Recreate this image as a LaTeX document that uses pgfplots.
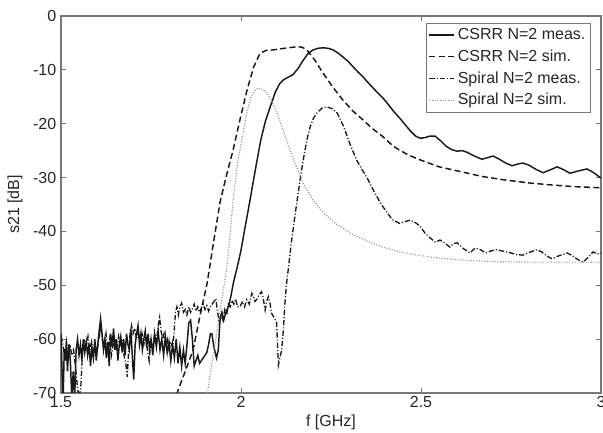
\documentclass[border=0pt]{standalone}
\usepackage{fontspec}
\setmainfont{Liberation Sans}
\usepackage{pgfplots}
\pgfplotsset{compat=1.18}
\usetikzlibrary{calc}
\definecolor{axgray}{RGB}{120,120,120}
\definecolor{dotgray}{RGB}{150,150,150}
\definecolor{curve}{RGB}{25,25,25}
\begin{document}
\begin{tikzpicture}
\begin{axis}[
  scale only axis,
  width=405pt, height=282.75pt,
  xmin=1.5, xmax=3, ymin=-70, ymax=0,
  xtick={1.5,2,2.5,3}, xticklabels={1.5,2,2.5,3},
  ytick={-70,-60,-50,-40,-30,-20,-10,0},
  yticklabels={-70,-60,-50,-40,-30,-20,-10,0},
  tick align=inside, major tick length=4pt,
  axis line style={axgray, line width=0.8pt},
  tick style={axgray, line width=0.6pt},
  every tick label/.append style={font=\fontsize{12}{14}\selectfont, text=black!85},
  xticklabel style={yshift=1pt},
  label style={font=\fontsize{12}{14}\selectfont, text=black!85},
  xlabel={f [GHz]}, ylabel={s21 [dB]},
  xlabel style={at={(axis description cs:0.5,-0.077)}, anchor=center},
  ylabel style={at={(axis description cs:-0.0852,0.5)}, anchor=center},
  legend cell align=left,
  legend style={at={(rel axis cs:1,1)}, anchor=north east, xshift=-7.5pt, yshift=-5.25pt,
    draw=axgray, line width=0.6pt, fill=white, font=\fontsize{12}{14}\selectfont,
    inner sep=1.8pt, row sep=1.9pt, nodes={inner sep=2.1pt, text=black!85}},
  legend image code/.code={\draw[#1] (0cm,0cm) -- (0.66cm,0cm);},
  clip=true,
]
% CSRR N=2 meas.
\addplot[curve, line width=1.1pt, solid] coordinates {
(1.500,-59) (1.503,-66) (1.506,-71) (1.509,-62) (1.512,-64) (1.515,-60.5) (1.518,-66)
(1.522,-61) (1.526,-64) (1.530,-71) (1.534,-66) (1.538,-71) (1.542,-62) (1.546,-60)
(1.550,-63) (1.554,-61) (1.558,-64) (1.562,-60) (1.566,-62.5) (1.570,-60.5) (1.574,-63)
(1.578,-61) (1.582,-65) (1.586,-61.5) (1.590,-63.5) (1.594,-60) (1.598,-64) (1.602,-61)
(1.606,-58.5) (1.610,-56.2) (1.614,-59) (1.618,-62) (1.622,-60) (1.626,-63.5) (1.630,-60.5)
(1.634,-65) (1.638,-59) (1.642,-61.5) (1.646,-58) (1.650,-62) (1.654,-60) (1.658,-64)
(1.662,-61) (1.666,-59.5) (1.670,-62.5) (1.674,-60) (1.678,-63) (1.682,-59) (1.686,-61)
(1.690,-62) (1.694,-58) (1.698,-63) (1.702,-67.5) (1.706,-61) (1.710,-59) (1.714,-57.5)
(1.718,-61) (1.722,-59) (1.726,-62) (1.730,-60) (1.734,-58.5) (1.738,-61.5) (1.742,-59)
(1.746,-62) (1.750,-60) (1.755,-63) (1.760,-59) (1.765,-61.5) (1.770,-58.5) (1.775,-62)
(1.780,-60) (1.785,-63) (1.790,-59.5) (1.795,-62.5) (1.800,-60.5) (1.805,-64) (1.810,-61)
(1.815,-63.5) (1.820,-60) (1.825,-64.5) (1.830,-61.5) (1.835,-65) (1.840,-62) (1.845,-64.5)
(1.850,-61) (1.855,-57) (1.860,-56.5) (1.865,-60) (1.870,-65) (1.875,-64) (1.880,-63)
(1.885,-64.5) (1.890,-64) (1.895,-63.5) (1.900,-63) (1.905,-62.5) (1.910,-61) (1.915,-59)
(1.919,-59) (1.925,-61.5) (1.932,-63.5) (1.937,-62) (1.942,-56) (1.947,-55) (1.952,-56.5)
(1.958,-55) (1.965,-54) (1.972,-52) (1.979,-49.5) (1.990,-46.5) (2.000,-43.5) (2.012,-39)
(2.025,-34.2) (2.040,-28.5) (2.055,-23) (2.068,-19.5) (2.081,-16.9) (2.095,-14.2) (2.107,-12.6)
(2.117,-11.9) (2.130,-11.4) (2.144,-10.9) (2.158,-9.8) (2.172,-8.3) (2.186,-7) (2.200,-6.3)
(2.214,-6) (2.228,-5.9) (2.242,-6) (2.256,-6.3) (2.270,-6.9) (2.283,-7.6) (2.297,-8.4)
(2.311,-9.4) (2.325,-10.4) (2.339,-11.3) (2.352,-12.3) (2.366,-13.3) (2.380,-14.3) (2.394,-15.2)
(2.410,-16.5) (2.425,-17.8) (2.440,-18.9) (2.455,-20.1) (2.470,-21.3) (2.485,-22.3) (2.497,-22.7)
(2.510,-22.6) (2.525,-22.3) (2.539,-22.3) (2.555,-23.2) (2.570,-24.2) (2.585,-24.8) (2.600,-25.1)
(2.614,-25.0) (2.628,-25.3) (2.645,-25.9) (2.669,-26.6) (2.685,-26.3) (2.700,-26.0) (2.718,-26.6)
(2.735,-27.3) (2.753,-27.8) (2.768,-27.5) (2.783,-27.3) (2.800,-27.7) (2.820,-28.5) (2.839,-29.1)
(2.858,-28.6) (2.878,-28.0) (2.895,-28.5) (2.914,-29.2) (2.935,-28.8) (2.961,-28.4) (2.980,-29.1)
(3.000,-30.1)
};
\addlegendentry{CSRR N=2 meas.}
% CSRR N=2 sim.
\addplot[curve, line width=1.1pt, dash pattern=on 4.5pt off 2.5pt] coordinates {
(1.815,-72) (1.825,-69.5) (1.845,-66) (1.867,-62) (1.885,-56) (1.906,-49.6) (1.925,-41.5)
(1.942,-34.5) (1.960,-29.5) (1.978,-24.9) (1.998,-19) (2.017,-13.7) (2.035,-9.5) (2.053,-6.9)
(2.070,-6.4) (2.089,-6.3) (2.120,-6) (2.156,-5.7) (2.170,-5.8) (2.183,-6.3) (2.205,-8.2)
(2.228,-10.6) (2.255,-13.2) (2.283,-15.6) (2.310,-17.6) (2.339,-19.3) (2.365,-20.9) (2.394,-22.4)
(2.420,-24) (2.440,-24.9) (2.465,-25.8) (2.497,-26.7) (2.550,-28) (2.617,-29) (2.670,-29.8)
(2.728,-30.4) (2.800,-31) (2.867,-31.4) (2.930,-31.7) (3.000,-31.9)
};
\addlegendentry{CSRR N=2 sim.}
% Spiral N=2 meas.
\addplot[curve, line width=1.0pt, dash pattern=on 4pt off 1.5pt on 0.8pt off 1.5pt] coordinates {
(1.500,-59.5) (1.505,-61) (1.510,-63) (1.515,-60.5) (1.520,-64) (1.525,-61) (1.530,-63)
(1.535,-62) (1.540,-65) (1.545,-68.5) (1.550,-71) (1.555,-69) (1.560,-62) (1.565,-60)
(1.570,-61.5) (1.575,-59.5) (1.580,-62) (1.585,-60.5) (1.590,-63) (1.595,-61) (1.600,-62.5)
(1.605,-60) (1.610,-58) (1.615,-60) (1.620,-61.5) (1.625,-59) (1.630,-62) (1.635,-60)
(1.640,-63) (1.645,-61) (1.650,-60) (1.655,-62) (1.660,-59.5) (1.665,-61) (1.670,-60)
(1.675,-63) (1.680,-64.5) (1.684,-67) (1.688,-62) (1.692,-59) (1.696,-57.5) (1.700,-59)
(1.705,-58) (1.710,-60) (1.715,-58.5) (1.720,-60.5) (1.725,-59) (1.730,-61) (1.735,-59.5)
(1.740,-62) (1.745,-64) (1.750,-60) (1.755,-61.5) (1.760,-59) (1.765,-60.5) (1.770,-57.5)
(1.774,-56) (1.778,-58.5) (1.782,-60) (1.786,-59) (1.790,-61) (1.795,-60) (1.800,-62)
(1.805,-60.5) (1.810,-61.5) (1.814,-59) (1.818,-55) (1.822,-54) (1.826,-55.5) (1.830,-54)
(1.835,-53.3) (1.840,-55) (1.845,-54.5) (1.850,-55.5) (1.855,-54) (1.860,-55) (1.865,-54.3)
(1.870,-53.5) (1.875,-54.8) (1.880,-54) (1.885,-55) (1.890,-54.2) (1.895,-53.5) (1.900,-54.5)
(1.905,-53.8) (1.910,-54.8) (1.915,-54) (1.920,-53.5) (1.925,-53) (1.930,-52.5) (1.935,-55)
(1.940,-57) (1.945,-55.5) (1.950,-56.5) (1.955,-54.5) (1.960,-55.5) (1.965,-53.5) (1.970,-54)
(1.975,-52.8) (1.980,-53.5) (1.985,-52.5) (1.990,-54) (1.997,-54) (2.004,-53) (2.010,-54)
(2.016,-52.7) (2.023,-53.5) (2.030,-51.5) (2.035,-52.2) (2.039,-53) (2.045,-52.5) (2.050,-51.8)
(2.057,-51.2) (2.062,-52.5) (2.067,-54.6) (2.072,-52.8) (2.076,-52.1) (2.081,-53.5) (2.085,-55.2)
(2.092,-56) (2.099,-57) (2.102,-62) (2.104,-64.8) (2.108,-63.5) (2.113,-62) (2.118,-58)
(2.122,-53.3) (2.126,-50) (2.131,-47.2) (2.140,-42) (2.148,-38) (2.156,-34.2) (2.165,-30)
(2.174,-26.3) (2.183,-23) (2.192,-20.6) (2.201,-19) (2.211,-18) (2.225,-17.1) (2.239,-16.9)
(2.253,-17.2) (2.267,-18) (2.285,-20.5) (2.303,-23.8) (2.320,-26.6) (2.335,-28.4) (2.350,-30)
(2.365,-32) (2.378,-33.6) (2.390,-35) (2.405,-36.4) (2.420,-37.8) (2.440,-38.5) (2.455,-38.2)
(2.470,-37.9) (2.485,-38.4) (2.497,-39) (2.511,-40.3) (2.525,-41.2) (2.540,-42) (2.553,-41.6)
(2.567,-42.2) (2.580,-42.9) (2.590,-42.3) (2.600,-42.1) (2.618,-43.2) (2.636,-44) (2.650,-43.1)
(2.665,-43.4) (2.680,-44) (2.695,-43.6) (2.710,-43.4) (2.730,-43.7) (2.750,-44) (2.765,-44.3)
(2.783,-44.4) (2.800,-43.9) (2.822,-43.4) (2.835,-43.8) (2.853,-44.7) (2.865,-45.1) (2.880,-44.6)
(2.906,-44) (2.920,-44.5) (2.935,-45.2) (2.950,-45.7) (2.965,-44.8) (2.978,-43.8) (2.990,-44.2)
(3.000,-44)
};
\addlegendentry{Spiral N=2 meas.}
% Spiral N=2 sim.
\addplot[dotgray, line width=0.9pt, dash pattern=on 0.8pt off 1.2pt] coordinates {
(1.903,-72) (1.908,-69.5) (1.920,-64) (1.933,-58.9) (1.947,-52.5) (1.961,-46.6) (1.970,-40.5)
(1.978,-34.2) (1.990,-27.5) (2.006,-21.7) (2.015,-18.3) (2.025,-15.6) (2.036,-14) (2.047,-13.4)
(2.060,-13.6) (2.072,-14.3) (2.086,-15.9) (2.100,-18) (2.118,-21.4) (2.136,-24.9) (2.155,-28.2)
(2.172,-31) (2.200,-34.2) (2.230,-36.6) (2.260,-38.4) (2.303,-40.3) (2.350,-41.8) (2.394,-42.9)
(2.440,-43.8) (2.489,-44.4) (2.530,-44.8) (2.580,-45.1) (2.630,-45.4) (2.700,-45.6) (2.800,-45.7)
(2.900,-45.7) (3.000,-45.7)
};
\addlegendentry{Spiral N=2 sim.}
\end{axis}
\pgfresetboundingbox
\path ($(current axis.south west)+(-45.75pt,-30pt)$) rectangle ($(current axis.north east)+(1.5pt,12pt)$);
\end{tikzpicture}
\end{document}
